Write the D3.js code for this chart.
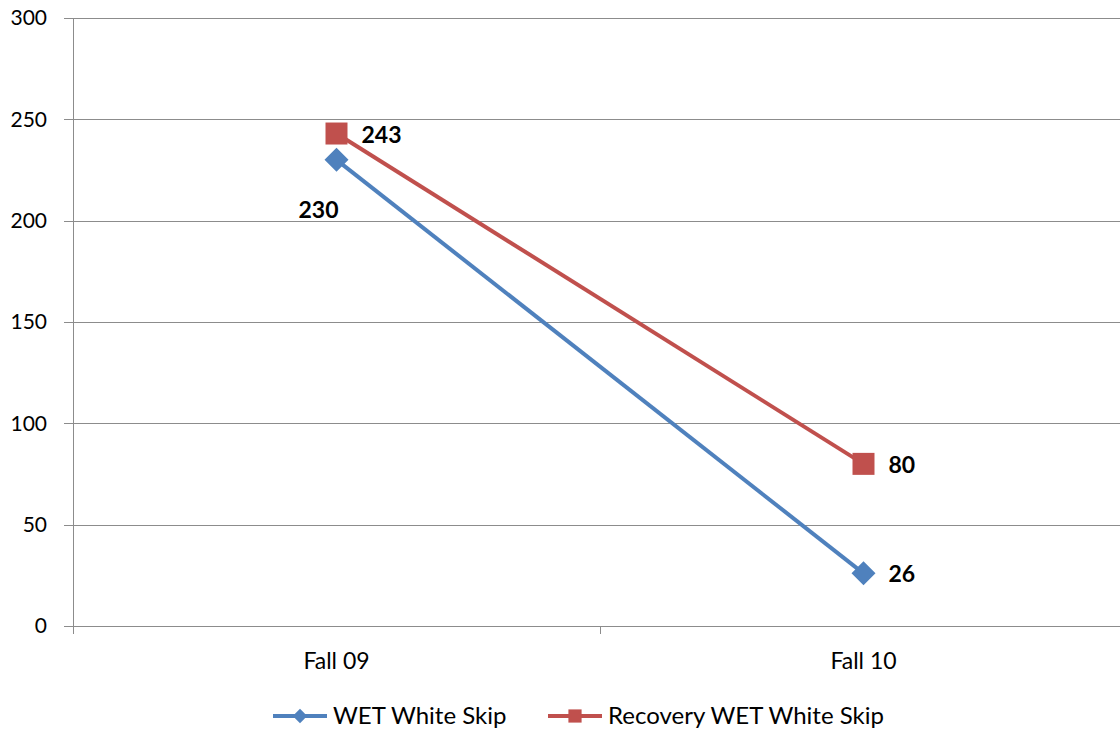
<!DOCTYPE html>
<html lang="en">
<head>
    <meta charset="UTF-8">
    <title>WET White Skip</title>
    <script src="https://cdnjs.cloudflare.com/ajax/libs/d3/7.8.5/d3.min.js"></script>
    <style>
        body { margin: 0; padding: 0; background: #fff; }
        svg text { font-family: Lato, "Open Sans", sans-serif; fill: #000; }
    </style>
</head>
<body>
    <svg id="chart" width="1120" height="734"></svg>

    <script>
        // data
        const categories = ["Fall 09", "Fall 10"];
        const wetWhiteSkip = [230, 26];
        const recoveryWetWhiteSkip = [243, 80];
        const yTicks = [0, 50, 100, 150, 200, 250, 300];

        const series = [
            { name: "WET White Skip", values: wetWhiteSkip, color: "#4F81BD", marker: "diamond", labelPos: ["below", "right"] },
            { name: "Recovery WET White Skip", values: recoveryWetWhiteSkip, color: "#C0504D", marker: "square", labelPos: ["right", "right"] }
        ];

        const svg = d3.select("#chart");
        const plotLeft = 73, plotRight = 1127, plotTop = 18, plotBottom = 626;

        const x = d3.scaleBand().domain(categories).range([plotLeft, plotRight]);
        const y = d3.scaleLinear().domain([0, 300]).range([plotBottom, plotTop]);
        const cx = d => x(d) + x.bandwidth() / 2;

        // gridlines
        svg.append("g")
            .selectAll("line")
            .data(yTicks)
            .join("line")
            .attr("x1", plotLeft - 9)
            .attr("x2", plotRight)
            .attr("y1", d => Math.round(y(d)) + 0.5)
            .attr("y2", d => Math.round(y(d)) + 0.5)
            .attr("stroke", "#8c8c8c")
            .attr("stroke-width", 1);

        // y axis line
        svg.append("line")
            .attr("x1", plotLeft + 0.5).attr("x2", plotLeft + 0.5)
            .attr("y1", plotTop).attr("y2", plotBottom + 8)
            .attr("stroke", "#8c8c8c");

        // x tick marks at band boundaries
        svg.append("g")
            .selectAll("line")
            .data(categories.slice(1))
            .join("line")
            .attr("x1", d => Math.round(x(d)) + 0.5)
            .attr("x2", d => Math.round(x(d)) + 0.5)
            .attr("y1", plotBottom)
            .attr("y2", plotBottom + 8)
            .attr("stroke", "#8c8c8c");

        // y tick labels
        svg.append("g")
            .selectAll("text")
            .data(yTicks)
            .join("text")
            .attr("x", 47)
            .attr("y", d => y(d))
            .attr("dy", "0.35em")
            .attr("text-anchor", "end")
            .attr("font-size", 21)
            .text(d => d);

        // x labels
        svg.append("g")
            .selectAll("text")
            .data(categories)
            .join("text")
            .attr("x", d => cx(d))
            .attr("y", 661)
            .attr("dy", "0.35em")
            .attr("text-anchor", "middle")
            .attr("font-size", 23)
            .text(d => d);

        const markerPath = (type) => type === "diamond"
            ? "M0,-12L12,0L0,12L-12,0Z"
            : "M-11,-11H11V11H-11Z";

        // lines + markers + labels
        series.forEach(s => {
            const pts = s.values.map((v, i) => ({ cat: categories[i], v, pos: s.labelPos[i] }));
            svg.append("path")
                .datum(pts)
                .attr("fill", "none")
                .attr("stroke", s.color)
                .attr("stroke-width", 4)
                .attr("d", d3.line().x(d => cx(d.cat)).y(d => y(d.v)));

            svg.append("g")
                .selectAll("path")
                .data(pts)
                .join("path")
                .attr("transform", d => `translate(${cx(d.cat)},${y(d.v)})`)
                .attr("d", markerPath(s.marker))
                .attr("fill", s.color);

            svg.append("g")
                .selectAll("text")
                .data(pts)
                .join("text")
                .attr("x", d => d.pos === "below" ? cx(d.cat) + 2 : cx(d.cat) + 25)
                .attr("y", d => d.pos === "below" ? y(d.v) + 50 : y(d.v) + 1)
                .attr("dy", "0.35em")
                .attr("text-anchor", d => d.pos === "below" ? "end" : "start")
                .attr("font-size", 23)
                .attr("font-weight", "bold")
                .text(d => d.v);
        });

        // legend
        const legendX = [273, 548];
        series.forEach((s, i) => {
            const g = svg.append("g").attr("transform", `translate(${legendX[i]},716)`);
            g.append("line")
                .attr("x1", 0).attr("x2", 54)
                .attr("stroke", s.color).attr("stroke-width", 4);
            g.append("path")
                .attr("transform", "translate(27,0) scale(0.6)")
                .attr("d", markerPath(s.marker))
                .attr("fill", s.color);
            g.append("text")
                .attr("x", 60)
                .attr("dy", "0.35em")
                .attr("font-size", 24)
                .text(s.name);
        });
    </script>
</body>
</html>
